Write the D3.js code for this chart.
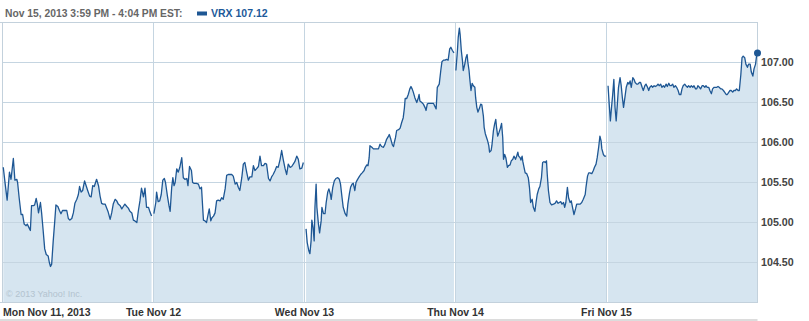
<!DOCTYPE html>
<html>
<head>
<meta charset="utf-8">
<script src="https://cdn.jsdelivr.net/npm/d3@7"></script>
<style>
  html, body { margin: 0; padding: 0; background: #fff; }
  svg { display: block; font-family: "Liberation Sans", Arial, sans-serif; }
</style>
</head>
<body>
<svg id="chart" width="809" height="321"></svg>
<script>
/* chart data: minutes after the 9:30 open, price */
const dayLabels = ['Mon Nov 11, 2013', 'Tue Nov 12', 'Wed Nov 13', 'Thu Nov 14', 'Fri Nov 15'];
const priceTicks = [104.5, 105, 105.5, 106, 106.5, 107];
const sessionMinutes = 390;
const headerText = 'Nov 15, 2013 3:59 PM - 4:04 PM EST:';
const symbol = 'VRX';
const lastPrice = 107.12;

const mon = [
  [2, 105.69], [6, 105.52], [12, 105.28], [18, 105.63], [22, 105.54], [28, 105.80], [32, 105.53],
  [37, 105.54], [39, 105.50], [43, 105.31], [48, 105.10], [52, 105.10], [56, 104.98], [61, 104.96],
  [64, 104.98], [69, 104.93], [72, 104.90], [75, 105.21], [80, 105.21], [83, 105.22], [87, 105.30],
  [90, 105.23], [93, 105.12], [98, 105.25], [101, 105.12], [105, 104.90], [109, 104.67], [113, 104.60],
  [118, 104.58], [121, 104.50], [124, 104.45], [127, 104.48], [131, 104.77], [135, 105.02], [138, 105.22],
  [143, 105.20], [147, 105.15], [151, 105.11], [155, 105.15], [160, 105.15], [166, 105.15], [170, 105.05],
  [174, 105.03], [179, 105.05], [183, 105.12], [187, 105.24], [192, 105.29], [196, 105.35], [199, 105.45],
  [203, 105.38], [207, 105.40], [212, 105.52], [216, 105.46], [220, 105.40], [225, 105.33], [229, 105.32],
  [233, 105.46], [237, 105.45], [243, 105.54], [248, 105.46], [252, 105.33], [256, 105.24], [260, 105.23],
  [265, 105.23], [269, 105.18], [273, 105.13], [278, 105.04], [282, 105.12], [286, 105.23], [291, 105.29],
  [295, 105.27], [299, 105.23], [304, 105.21], [308, 105.17], [312, 105.20], [316, 105.23], [321, 105.20],
  [325, 105.18], [329, 105.14], [334, 105.12], [338, 105.03], [342, 105.02], [347, 105.00], [351, 105.15],
  [355, 105.27], [359, 105.43], [364, 105.32], [368, 105.43], [372, 105.19], [377, 105.19], [381, 105.13],
  [385, 105.08],
];

const tue = [
  [1, 105.11], [6, 105.25], [8, 105.38], [12, 105.26], [16, 105.27], [20, 105.35], [24, 105.53],
  [28, 105.55], [31, 105.50], [36, 105.33], [40, 105.21], [43, 105.14], [47, 105.44], [50, 105.56],
  [53, 105.46], [56, 105.50], [60, 105.67], [64, 105.63], [68, 105.69], [73, 105.81], [77, 105.56],
  [81, 105.54], [86, 105.55], [89, 105.46], [93, 105.70], [98, 105.65], [101, 105.50], [105, 105.49],
  [111, 105.49], [116, 105.48], [120, 105.42], [124, 105.44], [127, 105.19], [129, 105.03], [133, 105.02],
  [137, 105.00], [141, 105.10], [144, 105.17], [148, 105.02], [151, 105.06], [155, 105.08], [159, 105.12],
  [163, 105.27], [167, 105.28], [172, 105.27], [176, 105.31], [180, 105.29], [185, 105.42], [189, 105.59],
  [193, 105.60], [198, 105.60], [202, 105.60], [206, 105.58], [211, 105.48], [215, 105.50], [219, 105.44],
  [223, 105.40], [228, 105.56], [232, 105.73], [236, 105.75], [241, 105.62], [245, 105.53], [249, 105.57],
  [254, 105.57], [258, 105.71], [262, 105.65], [266, 105.67], [271, 105.70], [275, 105.83], [279, 105.71],
  [284, 105.71], [288, 105.74], [292, 105.73], [297, 105.55], [301, 105.52], [305, 105.57], [309, 105.60],
  [314, 105.65], [318, 105.70], [322, 105.69], [327, 105.79], [331, 105.90], [335, 105.79], [340, 105.67],
  [344, 105.60], [348, 105.73], [353, 105.69], [357, 105.70], [361, 105.73], [365, 105.76], [370, 105.83],
  [374, 105.79], [378, 105.67], [383, 105.68], [387, 105.75],
];

const wed = [
  [4, 104.92], [7, 104.75], [11, 104.65], [14, 104.61], [17, 104.77], [19, 105.03], [22, 104.94],
  [25, 104.77], [27, 105.19], [30, 105.48], [32, 105.19], [36, 104.98], [39, 104.87], [43, 105.02],
  [45, 105.19], [49, 105.11], [53, 105.11], [56, 105.25], [60, 105.38], [63, 105.42], [67, 105.35],
  [69, 105.29], [73, 105.44], [77, 105.52], [81, 105.55], [86, 105.56], [90, 105.54], [93, 105.48],
  [97, 105.31], [100, 105.19], [105, 105.11], [109, 105.08], [112, 105.23], [116, 105.36], [119, 105.44],
  [123, 105.48], [126, 105.49], [130, 105.40], [133, 105.50], [136, 105.53], [141, 105.57], [145, 105.60],
  [149, 105.62], [154, 105.65], [157, 105.69], [161, 105.72], [164, 105.71], [167, 105.81], [169, 105.96],
  [174, 105.94], [178, 105.92], [182, 105.92], [186, 105.92], [191, 105.92], [195, 105.98], [199, 105.95],
  [204, 105.94], [208, 105.98], [212, 106.04], [217, 106.08], [219, 106.10], [223, 106.04], [227, 105.97],
  [230, 105.95], [232, 106.00], [235, 106.06], [238, 106.15], [243, 106.16], [247, 106.18], [251, 106.25],
  [255, 106.31], [258, 106.43], [260, 106.55], [264, 106.55], [268, 106.60], [272, 106.67], [275, 106.70],
  [278, 106.67], [281, 106.63], [285, 106.56], [290, 106.50], [294, 106.56], [296, 106.60], [298, 106.52],
  [303, 106.50], [307, 106.48], [312, 106.43], [314, 106.40], [317, 106.48], [320, 106.49], [324, 106.49],
  [329, 106.49], [333, 106.49], [336, 106.46], [340, 106.42], [343, 106.69], [348, 106.73], [352, 106.90],
  [355, 107.01], [359, 107.03], [363, 107.03], [367, 107.04], [371, 107.03], [375, 107.17], [378, 107.19],
  [382, 107.15], [386, 107.12],
];

const thu = [
  [1, 106.90], [5, 107.15], [7, 107.31], [10, 107.43], [12, 107.35], [15, 107.15], [18, 107.02],
  [20, 106.90], [24, 106.98], [27, 107.06], [30, 107.10], [32, 107.00], [35, 106.90], [37, 106.79],
  [40, 106.65], [43, 106.74], [46, 106.71], [50, 106.69], [52, 106.56], [55, 106.44], [58, 106.38],
  [62, 106.43], [65, 106.48], [68, 106.47], [72, 106.33], [74, 106.19], [77, 106.11], [81, 106.05],
  [83, 106.02], [86, 105.96], [88, 105.88], [92, 105.90], [94, 105.96], [98, 106.15], [101, 106.23],
  [104, 106.29], [106, 106.19], [109, 106.08], [112, 106.12], [116, 106.18], [119, 106.24], [122, 106.06],
  [124, 105.79], [127, 105.85], [130, 105.81], [134, 105.69], [137, 105.71], [141, 105.72], [144, 105.77],
  [148, 105.79], [151, 105.83], [155, 105.79], [158, 105.83], [161, 105.88], [163, 105.83], [167, 105.81],
  [169, 105.78], [172, 105.83], [174, 105.76], [177, 105.69], [180, 105.62], [184, 105.61], [188, 105.56],
  [191, 105.44], [194, 105.25], [198, 105.29], [201, 105.19], [205, 105.14], [208, 105.25], [211, 105.35],
  [215, 105.42], [218, 105.45], [222, 105.56], [225, 105.75], [229, 105.76], [232, 105.75], [235, 105.77],
  [237, 105.60], [240, 105.40], [244, 105.25], [248, 105.22], [253, 105.23], [257, 105.24], [261, 105.27],
  [265, 105.24], [268, 105.25], [272, 105.26], [275, 105.23], [279, 105.25], [282, 105.19], [285, 105.25],
  [289, 105.44], [292, 105.31], [296, 105.25], [299, 105.27], [303, 105.17], [306, 105.10], [310, 105.17],
  [313, 105.23], [317, 105.23], [322, 105.23], [326, 105.25], [330, 105.29], [335, 105.35], [337, 105.44],
  [341, 105.58], [344, 105.62], [347, 105.62], [352, 105.61], [356, 105.65], [359, 105.69], [363, 105.73],
  [366, 105.81], [370, 105.95], [373, 106.08], [376, 106.02], [378, 105.92], [382, 105.85], [385, 105.83],
  [389, 105.83],
];

const fri = [
  [4, 106.71], [7, 106.48], [10, 106.27], [13, 106.44], [16, 106.60], [19, 106.79], [22, 106.44],
  [25, 106.27], [28, 106.48], [31, 106.69], [35, 106.81], [38, 106.71], [41, 106.56], [44, 106.44],
  [48, 106.58], [51, 106.69], [55, 106.75], [58, 106.73], [61, 106.77], [64, 106.69], [68, 106.81],
  [71, 106.79], [74, 106.75], [78, 106.73], [81, 106.73], [85, 106.75], [88, 106.75], [92, 106.69],
  [95, 106.65], [99, 106.71], [102, 106.73], [106, 106.69], [109, 106.65], [112, 106.69], [116, 106.71],
  [119, 106.69], [123, 106.71], [126, 106.70], [130, 106.71], [133, 106.73], [136, 106.71], [140, 106.73],
  [143, 106.69], [147, 106.71], [150, 106.69], [154, 106.73], [157, 106.70], [161, 106.74], [164, 106.71],
  [167, 106.71], [171, 106.73], [174, 106.69], [178, 106.71], [181, 106.69], [185, 106.65], [188, 106.60],
  [192, 106.60], [195, 106.67], [198, 106.71], [202, 106.73], [205, 106.71], [209, 106.69], [212, 106.71],
  [216, 106.69], [219, 106.71], [223, 106.69], [226, 106.71], [230, 106.67], [233, 106.67], [236, 106.71],
  [240, 106.69], [243, 106.67], [247, 106.71], [250, 106.71], [254, 106.69], [257, 106.71], [260, 106.69],
  [264, 106.69], [267, 106.65], [271, 106.61], [274, 106.67], [278, 106.69], [281, 106.69], [285, 106.69],
  [288, 106.70], [291, 106.69], [295, 106.67], [298, 106.67], [302, 106.65], [305, 106.63], [309, 106.60],
  [312, 106.60], [316, 106.63], [319, 106.65], [322, 106.65], [326, 106.63], [329, 106.65], [333, 106.65],
  [336, 106.67], [340, 106.65], [343, 106.65], [347, 106.85], [350, 107.06], [353, 107.08], [357, 107.06],
  [360, 106.98], [364, 106.94], [367, 106.98], [371, 106.98], [374, 106.88], [378, 106.83], [381, 106.92],
  [385, 106.98], [388, 107.10], [390, 107.12],
];

const sessions = [mon, tue, wed, thu, fri];

/* layout */
const svg = d3.select('#chart');
const plotLeft = 2.5;
const plotRight = 757.5;
const plotTop = 22.5;
const plotBottom = 302.5;
const lineColor = '#1e5794';
const fillColor = '#d6e5f0';
const gridColor = '#c5d5e1';

const x = d3.scaleLinear()
  .domain([0, sessionMinutes * sessions.length])
  .range([plotLeft, plotRight]);
const y = d3.scaleLinear()
  .domain([104, 107.5])
  .range([plotBottom, plotTop]);

// minutes are per session, shift them by the day index
const series = sessions.map((s, i) => s.map(([m, p]) => ({ t: i * sessionMinutes + m, p })));

const area = d3.area()
  .x((d) => x(d.t))
  .y0(y(104))
  .y1((d) => y(d.p));
const line = d3.line()
  .x((d) => x(d.t))
  .y((d) => y(d.p));

svg.append('g')
  .selectAll('path')
  .data(series)
  .join('path')
  .attr('d', area)
  .attr('fill', fillColor);

/* grid */
const grid = svg.append('g')
  .attr('stroke', gridColor)
  .attr('shape-rendering', 'crispEdges');
grid.selectAll('.hgrid')
  .data(priceTicks)
  .join('line')
  .attr('class', 'hgrid')
  .attr('x1', plotLeft)
  .attr('x2', plotRight)
  .attr('y1', (d) => y(d))
  .attr('y2', (d) => y(d));
grid.selectAll('.vgrid')
  .data(d3.range(1, sessions.length))
  .join('line')
  .attr('class', 'vgrid')
  .attr('x1', (d) => x(d * sessionMinutes))
  .attr('x2', (d) => x(d * sessionMinutes))
  .attr('y1', plotTop)
  .attr('y2', plotBottom);

/* frame */
const frame = svg.append('g')
  .attr('stroke', '#c3d1dc')
  .attr('shape-rendering', 'crispEdges');
frame.append('line').attr('x1', 0).attr('x2', plotRight).attr('y1', plotTop).attr('y2', plotTop);
frame.append('line').attr('x1', 0).attr('x2', plotRight).attr('y1', plotBottom).attr('y2', plotBottom);
frame.append('line').attr('x1', plotLeft).attr('x2', plotLeft).attr('y1', plotTop).attr('y2', plotBottom);
frame.append('line').attr('x1', plotRight).attr('x2', plotRight).attr('y1', plotTop).attr('y2', plotBottom);

svg.append('g')
  .selectAll('path')
  .data(series)
  .join('path')
  .attr('d', line)
  .attr('fill', 'none')
  .attr('stroke', lineColor)
  .attr('stroke-width', 1.3)
  .attr('stroke-linejoin', 'round');

const last = series[series.length - 1][series[series.length - 1].length - 1];
svg.append('circle')
  .attr('cx', x(last.t))
  .attr('cy', y(last.p))
  .attr('r', 3.5)
  .attr('fill', lineColor);

/* price labels */
svg.append('g')
  .selectAll('text')
  .data(priceTicks)
  .join('text')
  .attr('x', 761)
  .attr('y', (d) => y(d) + 3.5)
  .attr('font-size', 10.7)
  .attr('font-weight', 'bold')
  .attr('fill', '#444')
  .text((d) => d.toFixed(2));

/* day labels, first one left aligned */
svg.append('g')
  .selectAll('text')
  .data(dayLabels)
  .join('text')
  .attr('x', (d, i) => (i === 0 ? 3 : x(i * sessionMinutes)))
  .attr('y', 316)
  .attr('text-anchor', (d, i) => (i === 0 ? 'start' : 'middle'))
  .attr('font-size', 10.5)
  .attr('font-weight', 'bold')
  .attr('fill', '#333')
  .text((d) => d);

svg.append('rect')
  .attr('x', 0)
  .attr('y', 319)
  .attr('width', plotRight)
  .attr('height', 2)
  .attr('fill', '#dcdcdc');

svg.append('text')
  .attr('x', 6)
  .attr('y', 297)
  .attr('font-size', 9)
  .attr('fill', '#b3c3cf')
  .text('\u00a9 2013 Yahoo! Inc.');

/* header */
svg.append('text')
  .attr('x', 5)
  .attr('y', 17)
  .attr('font-size', 10.3)
  .attr('font-weight', 'bold')
  .attr('fill', '#666')
  .text(headerText);
svg.append('rect')
  .attr('x', 197)
  .attr('y', 11.5)
  .attr('width', 10)
  .attr('height', 4)
  .attr('fill', lineColor);
svg.append('text')
  .attr('x', 211)
  .attr('y', 17)
  .attr('font-size', 10.5)
  .attr('font-weight', 'bold')
  .attr('fill', '#1d5a9a')
  .text(`${symbol} ${lastPrice.toFixed(2)}`);
</script>
</body>
</html>
